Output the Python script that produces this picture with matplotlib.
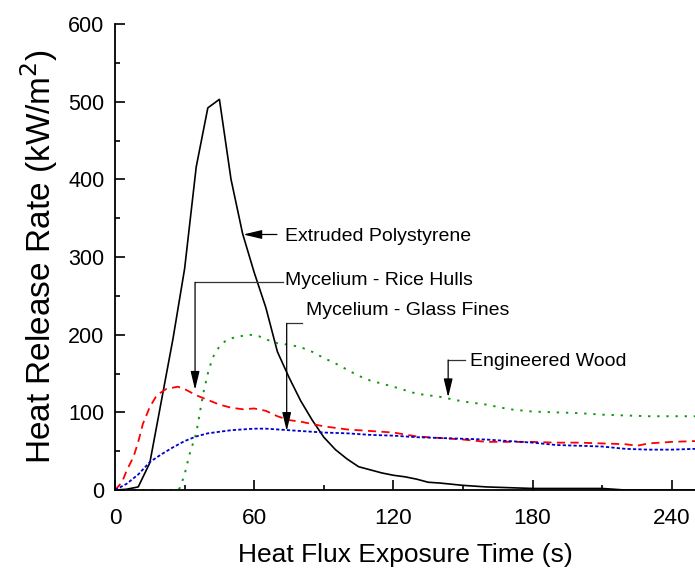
import numpy as np
import matplotlib
matplotlib.use('Agg')
import matplotlib.pyplot as plt
from matplotlib.ticker import MultipleLocator

plt.rcParams['font.family'] = ['Liberation Sans', 'DejaVu Sans']

# Extruded Polystyrene (black solid)
t_xps = [0, 5, 10, 15, 20, 25, 30, 35, 40, 45, 50, 55, 60, 65, 70, 75, 80, 85, 90, 95,
         100, 105, 110, 115, 120, 125, 130, 135, 140, 150, 160, 170, 180, 190, 200, 210,
         215, 220, 250]
hrr_xps = [0, 1, 4, 35, 115, 195, 285, 416, 492, 503, 400, 330, 280, 235, 178, 145, 115,
           90, 68, 52, 40, 30, 26, 22, 19, 17, 14, 10, 9, 6, 4, 3, 2, 2, 2, 2, 1, 0, 0]

# Mycelium - Rice Hulls (red dashed)
t_rice = [0, 3, 5, 8, 10, 12, 15, 18, 22, 27, 30, 35, 40, 45, 50, 55, 60, 65, 70, 75, 80,
          85, 90, 100, 110, 120, 130, 140, 150, 160, 170, 180, 190, 200, 210, 220, 225,
          230, 240, 250]
hrr_rice = [0, 10, 25, 43, 62, 85, 107, 122, 130, 133, 130, 122, 116, 110, 106, 104, 105,
            102, 95, 90, 88, 85, 82, 78, 76, 74, 69, 67, 65, 62, 62, 62, 61, 61, 60, 59, 57,
            60, 62, 63]

# Mycelium - Glass Fines (blue dotted)
t_glass = [0, 5, 10, 15, 20, 25, 30, 35, 40, 45, 50, 55, 60, 65, 70, 75, 80, 90, 100, 110,
           120, 130, 140, 150, 160, 170, 180, 190, 200, 210, 220, 230, 240, 250]
hrr_glass = [0, 8, 20, 36, 46, 55, 63, 69, 73, 75, 77, 78, 79, 79, 78, 77, 76, 74, 73, 71,
             70, 68, 67, 66, 65, 63, 61, 58, 57, 56, 53, 52, 52, 53]

# Engineered Wood (green dotted)
t_wood = [0, 27, 28, 30, 32, 35, 38, 40, 42, 45, 48, 52, 58, 62, 66, 70, 75, 80, 85, 90,
          95, 100, 105, 110, 115, 120, 130, 140, 150, 160, 170, 180, 190, 200, 210, 220,
          230, 240, 250]
hrr_wood = [0, 0, 3, 20, 45, 73, 124, 150, 170, 185, 193, 197, 200, 198, 193, 189, 187,
            184, 178, 170, 163, 155, 147, 141, 137, 133, 124, 120, 114, 110, 104, 101, 100,
            99, 97, 96, 95, 95, 95]

fig = plt.figure(figsize=(6.95, 5.69), dpi=100)
ax = fig.add_axes([0.1655, 0.1388, 0.8345, 0.819])

ax.plot(t_xps, hrr_xps, color='black', lw=1.2)
ax.plot(t_rice, hrr_rice, color='#ff0000', lw=1.3, linestyle=(0, (4.5, 3)))
ax.plot(t_glass, hrr_glass, color='#0000cc', lw=1.3, linestyle=(0, (1.8, 1.2)))
ax.plot(t_wood, hrr_wood, color='#119911', lw=1.4, linestyle=(0, (1.2, 3.5)))

ax.set_xlim(0, 250)
ax.set_ylim(0, 600)
ax.xaxis.set_major_locator(MultipleLocator(60))
ax.xaxis.set_minor_locator(MultipleLocator(30))
ax.yaxis.set_major_locator(MultipleLocator(100))
ax.yaxis.set_minor_locator(MultipleLocator(50))
ax.tick_params(which='both', direction='in', width=1.2)
ax.tick_params(which='major', length=7)
ax.tick_params(which='minor', length=3.5)
ax.tick_params(axis='y', which='major', pad=7.5, labelsize=15.5)
ax.tick_params(axis='x', which='major', pad=13, labelsize=16.2)
for side in ['top', 'right']:
    ax.spines[side].set_visible(False)
for side in ['left', 'bottom']:
    ax.spines[side].set_linewidth(1.3)

ax.set_xlabel('Heat Flux Exposure Time (s)', fontsize=19, labelpad=10)
ax.set_ylabel('Heat Release Rate (kW/m$^2$)', fontsize=24, labelpad=6)

arrow_kw = dict(arrowstyle='-|>,head_length=0.75,head_width=0.18', color='black',
                lw=0.9, mutation_scale=15, shrinkA=0, shrinkB=0)
line_kw = dict(color='#333333', lw=0.9)
txt = 14

# Extruded Polystyrene
ax.annotate('', xy=(55.3, 329), xytext=(69.8, 329), arrowprops=arrow_kw)
ax.text(73.2, 327, 'Extruded Polystyrene', fontsize=txt, va='center')

# Mycelium - Rice Hulls
ax.plot([72.4, 34.5], [267.4, 267.4], **line_kw)
ax.annotate('', xy=(34.5, 129), xytext=(34.5, 267.4), arrowprops=arrow_kw)
ax.text(73.2, 270.4, 'Mycelium - Rice Hulls', fontsize=txt, va='center')

# Mycelium - Glass Fines
ax.plot([80.8, 74.0], [214.6, 214.6], **line_kw)
ax.annotate('', xy=(74.0, 76), xytext=(74.0, 214.6), arrowprops=arrow_kw)
ax.text(82.3, 231.7, 'Mycelium - Glass Fines', fontsize=txt, va='center')

# Engineered Wood
ax.plot([150.7, 143.6], [167.4, 167.4], **line_kw)
ax.annotate('', xy=(143.6, 119.4), xytext=(143.6, 167.4), arrowprops=arrow_kw)
ax.text(152.9, 165.2, 'Engineered Wood', fontsize=txt, va='center')

fig.savefig('out.png', dpi=100)
